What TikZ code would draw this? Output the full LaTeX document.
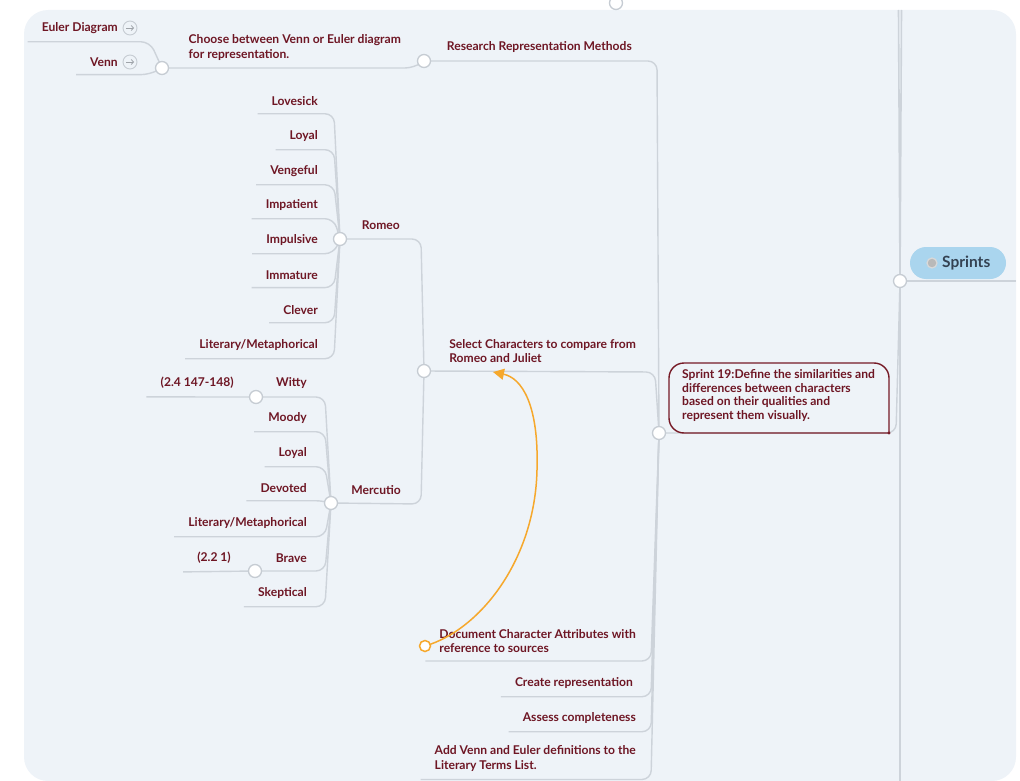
\documentclass[tikz,border=0pt]{standalone}
\usepackage{fontspec}
\setmainfont{Lato}
\usetikzlibrary{arrows.meta,calc}
\definecolor{bg}{RGB}{238,243,248}
\definecolor{txt}{RGB}{110,22,36}
\definecolor{ln}{RGB}{205,211,218}
\definecolor{dotb}{RGB}{198,204,211}
\definecolor{org}{RGB}{246,168,44}
\definecolor{pillc}{RGB}{170,213,238}
\definecolor{pilltxt}{RGB}{52,66,82}
\definecolor{s19c}{RGB}{118,26,38}
\tikzset{
  lbl/.style={font=\fontsize{12.1}{14.5}\selectfont\bfseries, text=txt, inner sep=0pt, align=left, anchor=east},
  conn/.style={draw=ln, line width=1.4pt, rounded corners=9pt},
  trunk/.style={draw=ln, line width=1.6pt},
  dot/.style={circle, draw=dotb, fill=white, line width=1.3pt, minimum size=13pt, inner sep=0pt},
  odot/.style={circle, draw=org, fill=white, line width=1.5pt, minimum size=11pt, inner sep=0pt},
  icon/.style={circle, draw=dotb, line width=0.9pt, minimum size=14pt, inner sep=0pt},
  iconarrow/.style={draw=dotb!80!black, line width=0.8pt, -{Straight Barb[length=2.2pt,width=5pt]}},
  pill/.style={draw=none, fill=pillc, rounded corners=16pt, minimum width=96pt, minimum height=32pt, inner sep=0pt},
  orel/.style={draw=org, line width=1.5pt, -{Triangle[length=11pt,width=11pt]}},
  s19border/.style={draw=s19c, line width=1.4pt, rounded corners=15pt},
}
\newcommand\childline[3]{%
  \draw[conn] let \p1=([shift={(-14pt,-8pt)}]#1.south west), \p2=(#2) in
    (\p1) -- ($(\x2,\y1)+(#3,0pt)$) -- (\p2);}
\begin{document}
\begin{tikzpicture}[x=1pt,y=-1pt]
\useasboundingbox (0,0) rectangle (1020,781);
\fill[bg, rounded corners=24pt] (24,10) rectangle (1016,781);

% circle centres
\coordinate (cChoose) at (162,68);
\coordinate (cRes) at (424,61);
\coordinate (cSel) at (424,371);
\coordinate (cRom) at (340,239);
\coordinate (cMer) at (331,503);
\coordinate (cWit) at (256,397);
\coordinate (cBra) at (255,571);
\coordinate (cS19) at (659,433);
\coordinate (cSpr) at (900,281);
\coordinate (cDoc) at (425,646);
\coordinate (cTop) at (616,3);

% labels
\node[lbl] (eul) at (118,28) {Euler Diagram};
\node[lbl] (venn) at (118,62) {Venn};
\node[lbl] (choose) at (401,47.5) {Choose between Venn or Euler diagram\\for representation.};
\node[lbl] (res) at (632,47) {Research Representation Methods};
\node[lbl] (sel) at (636,351) {Select Characters to compare from\\Romeo and Juliet};
\node[lbl] (rom) at (400,225) {Romeo};
\node[lbl] (mer) at (401,490) {Mercutio};

\node[lbl] (lov) at (318,101) {Lovesick};
\node[lbl] (loy) at (318,136) {Loyal};
\node[lbl] (ven) at (318,171) {Vengeful};
\node[lbl] (imp) at (318,205) {Impatient};
\node[lbl] (ipl) at (318,240) {Impulsive};
\node[lbl] (imm) at (318,275) {Immature};
\node[lbl] (clv) at (318,310) {Clever};
\node[lbl] (lit) at (318,345) {Literary/Metaphorical};

\node[lbl] (wit) at (307,383) {Witty};
\node[lbl] (moo) at (307,418) {Moody};
\node[lbl] (mloy) at (307,453) {Loyal};
\node[lbl] (dev) at (307,488) {Devoted};
\node[lbl] (mlit) at (307,523) {Literary/Metaphorical};
\node[lbl] (bra) at (307,558) {Brave};
\node[lbl] (ske) at (307,593) {Skeptical};
\node[lbl] (ref1) at (234,383) {(2.4 147-148)};
\node[lbl] (ref2) at (231,558) {(2.2 1)};

\node[lbl] (doc) at (636,641) {Document Character Attributes with\\reference to sources};
\node[lbl] (cre) at (633,683) {Create representation};
\node[lbl] (ass) at (636,718) {Assess completeness};
\node[lbl] (add) at (636,758.5) {Add Venn and Euler definitions to the\\Literary Terms List.};

% connectors
\childline{eul}{cChoose}{-12pt}
\childline{venn}{cChoose}{-12pt}
\draw[conn] (cChoose) -- (414,68) -- (cRes);
\draw[conn] (cRes) -- (657,61) -- (cS19);
\draw[conn] (cSel) -- (655,372) -- (cS19);
\draw[conn] (cRom) -- (421,239) -- (cSel);
\draw[conn] (cMer) -- (421,504) -- (cSel);
\foreach \lb in {lov,loy,ven,imp,ipl,imm,clv,lit}{\childline{\lb}{cRom}{-6pt}}
\foreach \lb in {moo,mloy,dev,mlit,ske}{\childline{\lb}{cMer}{-6pt}}
\draw[conn] (cWit) -- (325,397) -- (cMer);
\draw[conn] (cBra) -- (325,571) -- (cMer);
\draw[conn] ([shift={(-14pt,-8pt)}]ref1.south west) -- (cWit);
\draw[conn] ([shift={(-14pt,-8pt)}]ref2.south west) -- (cBra);
\foreach \lb in {doc,cre,ass,add}{\childline{\lb}{cS19}{-8pt}}
\draw[conn] (cS19) -- (896,433) -- (cSpr);
\draw[trunk] (898.5,10) -- (cSpr);
\draw[trunk] (901.5,10) -- (cSpr);
\draw[trunk, line width=2.4pt] (cSpr) -- (900,781);
\draw[trunk] (cSpr) -- (1016,281);

% Sprint 19 box
\node[font=\fontsize{12.1}{13.8}\selectfont\bfseries, text=txt, inner sep=0pt, align=left, anchor=north west] (s19) at (682,369)
  {Sprint 19:Define the similarities and\\differences between characters\\based on their qualities and\\represent them visually.};
\draw[s19border] (889,433) -- (669,433) -- (669,363) -- (889,363) -- (889,433);
\fill[s19c] (889,433) circle (1.7pt);

% Sprints pill
\node[pill] (spr) at (958,263) {};
\node[circle, fill=gray!55, draw=gray!30, line width=1.2pt, minimum size=10pt, inner sep=0pt] (sprI) at (932,263) {};
\node[font=\fontsize{15.5}{17}\selectfont\bfseries, text=pilltxt, inner sep=0pt, anchor=west] (sprT) at (942,263) {Sprints};

% icons
\node[icon] (eulI) at (130,28) {};
\draw[iconarrow] ([xshift=-4pt]eulI.center) -- ([xshift=4pt]eulI.center);
\node[icon] (vennI) at (130,62) {};
\draw[iconarrow] ([xshift=-4pt]vennI.center) -- ([xshift=4pt]vennI.center);

% orange relation
\coordinate (arrEnd) at (493,372);
\draw[orel] (cDoc) .. controls (480,630) and (535,560) .. (537,470) .. controls (539,405) and (522,378) .. (arrEnd);

% dots
\node[dot] (dChoose) at (cChoose) {};
\node[dot] (dRes) at (cRes) {};
\node[dot] (dSel) at (cSel) {};
\node[dot] (dRom) at (cRom) {};
\node[dot] (dMer) at (cMer) {};
\node[dot] (dWit) at (cWit) {};
\node[dot] (dBra) at (cBra) {};
\node[dot] (dS19) at (cS19) {};
\node[dot] (dSpr) at (cSpr) {};
\node[dot] (dTop) at (cTop) {};
\node[odot] (dDoc) at (cDoc) {};
\end{tikzpicture}
\end{document}
